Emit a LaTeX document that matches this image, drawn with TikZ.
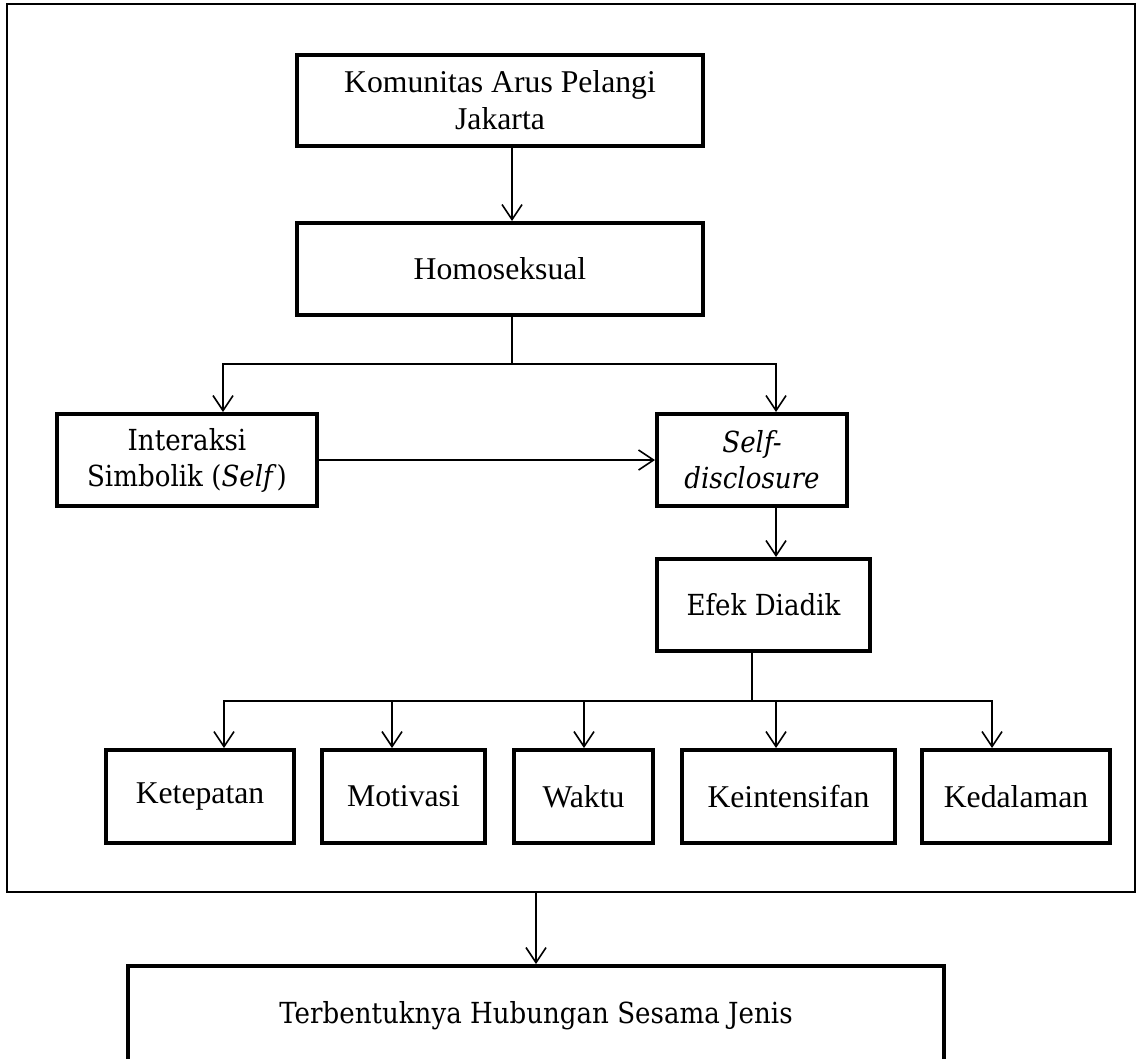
\documentclass[tikz,border=0pt]{standalone}
\usepackage{fontspec}
\setmainfont{Liberation Serif}
\newfontfamily\cambria[FakeStretch=0.9]{DejaVu Serif}
\usetikzlibrary{arrows.meta}
\begin{document}
\begin{tikzpicture}[x=1pt,y=-1pt,
  box/.style={draw,line width=4pt,inner sep=0pt,align=center,minimum height=92pt},
  tnr/.style={font=\fontsize{31.7}{37}\selectfont},
  cmb/.style={font=\cambria\fontsize{29}{36}\selectfont},
  conn/.style={line width=1.6pt},
  arr/.style={conn,-{Straight Barb[length=15pt,width=20pt]}}]
\path[use as bounding box] (0,0) rectangle (1142,1058);
\clip (0,0) rectangle (1142,1058);
% outer frame
\node[draw,line width=1.5pt,inner sep=0pt,minimum width=1128pt,minimum height=888pt] (frame) at (571,448) {};
% boxes
\node[box,tnr,minimum width=406pt,minimum height=91pt] (kom) at (500,100.5) {Komunitas Arus Pelangi\\Jakarta};
\node[box,tnr,minimum width=406pt] (homo) at (500,269) {Homoseksual};
\node[box,cmb,minimum width=260pt] (inter) at (187,460) {Interaksi\\Simbolik (\textit{Self})};
\node[box,cmb,minimum width=190pt] (self) at (752,460) {\textit{Self-}\\\textit{disclosure}};
\node[box,cmb,minimum width=213pt] (efek) at (763.5,605) {Efek Diadik};
\node[box,tnr,minimum width=188pt,minimum height=93pt] (ketep) at (200,796.5) {Ketepatan};
\node[box,tnr,minimum width=163pt,minimum height=93pt] (motiv) at (403.5,796.5) {Motivasi};
\node[box,tnr,minimum width=139pt,minimum height=93pt] (waktu) at (583.5,796.5) {Waktu};
\node[box,tnr,minimum width=213pt,minimum height=93pt] (keint) at (788.5,796.5) {Keintensifan};
\node[box,tnr,minimum width=188pt,minimum height=93pt] (kedal) at (1016,796.5) {Kedalaman};
\node[box,cmb,minimum width=816pt,minimum height=100pt] (terb) at (536,1016) {Terbentuknya Hubungan Sesama Jenis};
% junction points
\coordinate (j1) at (512,364);
\coordinate (jl) at (223,364);
\coordinate (jr) at (776,364);
\coordinate (j2) at (752,701);
\coordinate (b1) at (224,701);
\coordinate (b2) at (392,701);
\coordinate (b3) at (584,701);
\coordinate (b4) at (776,701);
\coordinate (b5) at (992,701);
\coordinate (fb) at (536,892);
% connectors
\draw[arr] (kom.south -| j1) -- (homo.north -| j1);
\draw[conn] (homo.south -| j1) -- (j1);
\draw[conn,line cap=rect] (jl) -- (jr);
\draw[arr] (jl) -- (inter.north -| jl);
\draw[arr] (jr) -- (self.north -| jr);
\draw[arr] (inter.east) -- (self.west);
\draw[arr] (self.south -| jr) -- (efek.north -| jr);
\draw[conn] (efek.south -| j2) -- (j2);
\draw[conn,line cap=rect] (b1) -- (b5);
\draw[arr] (b1) -- (ketep.north -| b1);
\draw[arr] (b2) -- (motiv.north -| b2);
\draw[arr] (b3) -- (waktu.north -| b3);
\draw[arr] (b4) -- (keint.north -| b4);
\draw[arr] (b5) -- (kedal.north -| b5);
\draw[arr] (frame.south -| fb) -- (terb.north -| fb);
\end{tikzpicture}
\end{document}
